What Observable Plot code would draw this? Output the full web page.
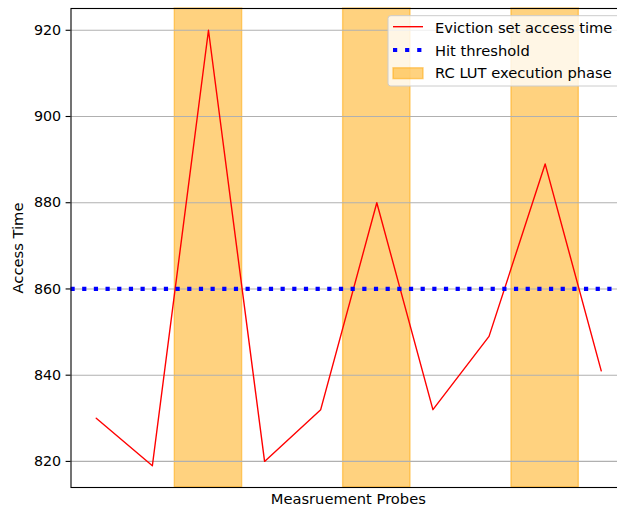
<!DOCTYPE html>
<html><head><meta charset="utf-8">
<script src="https://cdn.jsdelivr.net/npm/d3@7"></script>
<script src="https://cdn.jsdelivr.net/npm/@observablehq/plot@0.6"></script>
<style>
html,body{margin:0;padding:0;overflow:hidden;background:#fff}
#chart svg{max-width:none !important;display:block}
</style>
</head><body><div id="chart"></div>
<script>
// ---- data ----
const probes = [0, 1, 2, 3, 4, 5, 6, 7, 8, 9];
const accessTime = [830, 819, 920, 820, 832, 880, 832, 849, 889, 841];
const phaseStart = [1.4, 4.4, 7.4];
const phaseEnd = [2.6, 5.6, 8.6];
const hitThreshold = 860;
const yTicks = [820, 840, 860, 880, 900, 920];
const xDomain = [-0.45, 9.45];
const yDomain = [813.95, 925.05];
const xLabel = "Measruement Probes";
const yLabel = "Access Time";
const legendLabels = ["Eviction set access time", "Hit threshold", "RC LUT execution phase"];

const series = probes.map((p, i) => ({probe: p, time: accessTime[i]}));
const phases = phaseStart.map((s, i) => ({start: s, end: phaseEnd[i]}));

const FONT = "DejaVu Sans, sans-serif";
const LFS = 14.7;
const fig = Plot.plot({
  width: 626, height: 509,
  marginLeft: 70.5, marginRight: 0, marginTop: 8, marginBottom: 22,
  style: {fontFamily: FONT, fontSize: "14px", color: "#000", background: "#fff", maxWidth: "none", overflow: "visible"},
  x: {domain: xDomain, axis: null},
  y: {domain: yDomain, axis: null},
  marks: [
    Plot.rect(phases, {x1: "start", x2: "end", y1: yDomain[0], y2: yDomain[1], fill: "orange", fillOpacity: 0.5, stroke: "orange", strokeOpacity: 0.5, strokeWidth: 1.4}),
    Plot.gridY(yTicks, {stroke: "#b0b0b0", strokeOpacity: 1, strokeWidth: 1.1}),
    Plot.line(series, {x: "probe", y: "time", stroke: "red", strokeWidth: 1.4}),
    Plot.ruleY([hitThreshold], {stroke: "blue", strokeWidth: 4.2, strokeDasharray: "4.2 7.47"}),
    Plot.frame({stroke: "black", strokeWidth: 1.1}),
    Plot.axisY(yTicks, {tickSize: 4.9, tickPadding: 4.9, fontSize: 14.3, stroke: "black", strokeWidth: 1.1, fill: "black", label: null})
  ]
});
document.getElementById("chart").appendChild(fig);

const svg = d3.select(fig);
// axis labels
svg.append("text").attr("transform", "translate(23.3,248) rotate(-90)")
  .attr("text-anchor", "middle").attr("font-family", FONT).attr("font-size", LFS)
  .attr("fill", "black").text(yLabel);
svg.append("text").attr("x", 348.3).attr("y", 503.5)
  .attr("text-anchor", "middle").attr("font-family", FONT).attr("font-size", LFS)
  .attr("fill", "black").text(xLabel);

// legend
const lg = svg.append("g");
lg.append("rect").attr("x", 388).attr("y", 15.7).attr("width", 240).attr("height", 70.3)
  .attr("rx", 2.8).attr("fill", "white").attr("fill-opacity", 0.8)
  .attr("stroke", "#cccccc").attr("stroke-width", 1);
lg.append("line").attr("x1", 393).attr("x2", 423).attr("y1", 26.7).attr("y2", 26.7)
  .attr("stroke", "red").attr("stroke-width", 1.4);
lg.append("line").attr("x1", 393).attr("x2", 423).attr("y1", 50).attr("y2", 50)
  .attr("stroke", "blue").attr("stroke-width", 4.2).attr("stroke-dasharray", "4.2 7.9");
lg.append("rect").attr("x", 393).attr("y", 67.8).attr("width", 30).attr("height", 10.8)
  .attr("fill", "orange").attr("fill-opacity", 0.5).attr("stroke", "orange").attr("stroke-opacity", 0.5).attr("stroke-width", 1.4);
const rowsY = [33.3, 55.7, 78.3];
legendLabels.forEach((t, i) => {
  lg.append("text").attr("x", 435).attr("y", rowsY[i]).attr("font-family", FONT)
    .attr("text-anchor", "start")
    .attr("font-size", LFS).attr("fill", "black").text(t);
});
</script>
</body></html>
